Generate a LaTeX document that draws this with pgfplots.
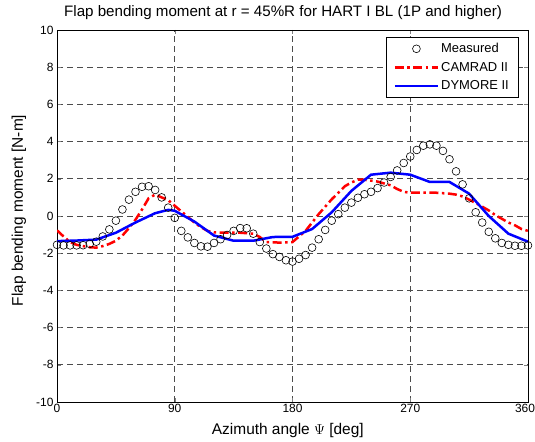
\documentclass[border=0pt]{standalone}
\usepackage{pgfplots}
\pgfplotsset{compat=1.18}
\usepackage{fontspec}
\setmainfont{Liberation Sans}
\pgfplotsset{
  longline/.style={legend image code/.code={\draw[##1] (0bp,0bp) -- (43bp,0bp);}},
  markleg/.style={legend image code/.code={\draw[mark repeat=2,mark phase=2,##1] plot coordinates {(0bp,0bp)(21.5bp,0bp)(43bp,0bp)};}},
}
\begin{document}
\begin{tikzpicture}
\begin{axis}[
  scale only axis,
  width=471bp, height=372bp,
  xmin=0, xmax=360, ymin=-10, ymax=10,
  xtick={0,90,180,270,360},
  xticklabels={0,90,180,270,\makebox[14bp][r]{360}},
  ytick={-10,-8,...,10},
  /pgf/number format/assume math mode=true,
  tick label style={font=\fontsize{12}{14}\selectfont},
  xticklabel style={yshift=1bp},
  tick align=inside,
  major tick length=4bp,
  xmajorgrids, ymajorgrids,
  major grid style={black!70, dash pattern=on 6bp off 4bp, line width=0.6bp},
  axis line style={line width=0.9bp},
  title={Flap bending moment at r = 45\%R for HART I BL (1P and higher)},
  title style={font=\fontsize{15.2}{17}\selectfont, at={(axis description cs:0.48,1)}, anchor=south, inner sep=0pt, yshift=4bp},
  xlabel={Azimuth angle $\Psi$ [deg]},
  ylabel={Flap bending moment [N-m]},
  label style={font=\fontsize{15.5}{17}\selectfont},
  xlabel style={at={(axis description cs:0.49,-0.0753)}, anchor=center},
  ylabel style={at={(axis description cs:-0.0807,0.515)}, anchor=center},
  legend style={at={(0.979,0.981)}, anchor=north east, draw=black, line width=0.6bp,
    font=\fontsize{13}{15}\selectfont, inner xsep=7bp, inner ysep=4bp, row sep=4bp,
    cells={anchor=west}},
]
\addplot[only marks, mark=o, mark size=3.9bp, black, mark options={line width=0.6bp}, markleg] coordinates {
(0,-1.55)(5,-1.58)(10,-1.58)(15,-1.58)(20,-1.57)(25,-1.5)(30,-1.38)(35,-1.1)(40,-0.72)(45,-0.25)
(50,0.35)(55,0.88)(60,1.3)(65,1.57)(70,1.6)(75,1.4)(80,1.0)(85,0.45)(90,-0.1)(95,-0.8)
(100,-1.15)(105,-1.45)(110,-1.63)(115,-1.65)(120,-1.45)(125,-1.25)(130,-1.02)(135,-0.8)(140,-0.65)(145,-0.66)
(150,-0.95)(155,-1.4)(160,-1.75)(165,-2.05)(170,-2.2)(175,-2.38)(180,-2.45)(185,-2.3)(190,-2.1)(195,-1.7)
(200,-1.25)(205,-0.75)(210,-0.25)(215,0.1)(220,0.45)(225,0.72)(230,0.98)(235,1.17)(240,1.3)(245,1.5)
(250,1.8)(255,2.1)(260,2.45)(265,2.85)(270,3.2)(275,3.55)(280,3.78)(285,3.85)(290,3.78)(295,3.5)
(300,3.05)(305,2.4)(310,1.7)(315,0.95)(320,0.2)(325,-0.35)(330,-0.85)(335,-1.2)(340,-1.45)(345,-1.55)
(350,-1.6)(355,-1.6)(360,-1.58)
};
\addlegendentry{Measured}
\addplot[red, line width=2.5bp, dash pattern=on 9bp off 3.5bp on 2.5bp off 3.5bp, longline] coordinates {
(0,-0.77)(5,-1.1)(10,-1.4)(15,-1.55)(20,-1.62)(25,-1.68)(30,-1.7)(35,-1.62)(40,-1.5)(45,-1.33)
(50,-1.05)(55,-0.65)(60,-0.2)(65,0.35)(70,0.95)(75,1.15)(80,1.0)(85,0.85)(90,0.55)(95,0.25)
(100,-0.05)(105,-0.35)(110,-0.6)(115,-0.8)(120,-0.88)(130,-0.9)(140,-0.9)(150,-0.95)(155,-1.13)(160,-1.4)
(170,-1.43)(180,-1.4)(185,-1.1)(190,-0.8)(195,-0.35)(200,0.1)(205,0.5)(210,0.9)(215,1.25)(220,1.6)
(225,1.8)(230,1.95)(235,1.95)(240,1.9)(245,1.85)(250,1.75)(255,1.65)(260,1.45)(265,1.3)(270,1.25)
(280,1.25)(290,1.25)(300,1.2)(305,1.15)(310,1.05)(315,0.88)(320,0.7)(325,0.5)(330,0.3)(335,0.05)
(340,-0.15)(345,-0.35)(350,-0.5)(355,-0.7)(360,-0.8)
};
\addlegendentry{CAMRAD II}
\addplot[blue, line width=2.5bp, longline] coordinates {
(0,-1.35)(15,-1.32)(30,-1.27)(45,-0.9)(60,-0.35)(75,0.15)(85,0.33)(90,0.28)(105,-0.3)(120,-1.05)
(135,-1.33)(150,-1.33)(165,-1.13)(180,-1.12)(195,-0.7)(210,0.2)(225,1.35)(240,2.22)(255,2.33)(270,2.22)
(285,1.83)(300,1.83)(315,1.2)(330,0.0)(345,-0.95)(360,-1.38)
};
\addlegendentry{DYMORE II}
\coordinate (BL) at (rel axis cs:0,0);
\coordinate (TR) at (rel axis cs:1,1);
\end{axis}
\pgfresetboundingbox
\path[use as bounding box] ([xshift=-57bp,yshift=-40bp]BL) rectangle ([xshift=7bp,yshift=30bp]TR);
\end{tikzpicture}
\end{document}
